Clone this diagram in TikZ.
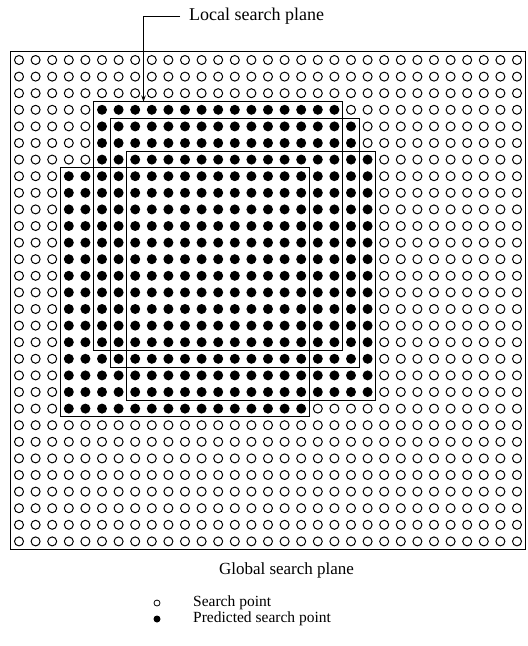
\documentclass[tikz,border=0pt]{standalone}
\usepackage{fontspec}
\setmainfont{Liberation Serif}
\usetikzlibrary{arrows.meta}
\begin{document}
\begin{tikzpicture}[x=1pt,y=-1pt,
  openpt/.style={circle,draw,line width=1pt,minimum size=9pt,inner sep=0pt},
  fillpt/.style={circle,fill,minimum size=10pt,inner sep=0pt},
  planebox/.style={draw,line width=1pt},
  outerframe/.style={draw,line width=1.2pt},
  lbl/.style={inner sep=0pt}]
\useasboundingbox (0,0) rectangle (528,646);
% grid of search points
\foreach \c in {0,...,30} {
  \foreach \r in {0,...,29} {
    \pgfmathtruncatemacro\isfilled{((\c>=5)&&(\c<=19)&&(\r>=3)&&(\r<=17))||((\c>=6)&&(\c<=20)&&(\r>=4)&&(\r<=18))||((\c>=7)&&(\c<=21)&&(\r>=6)&&(\r<=20))||((\c>=3)&&(\c<=17)&&(\r>=7)&&(\r<=21))}
    \ifnum\isfilled=1
      \node[fillpt] (p-\c-\r) at ({19+16.6*\c},{60+16.6*\r}) {};
    \else
      \node[openpt] (p-\c-\r) at ({19+16.6*\c},{60+16.6*\r}) {};
    \fi
  }
}
% global frame
\draw[outerframe] (10.7,51.7) rectangle (525.3,549.7);
% local search planes (15x15 cells each)
\newcommand\localbox[2]{\draw[planebox] ({19+16.6*(#1-0.5)},{60+16.6*(#2-0.5)}) rectangle ({19+16.6*(#1+14.5)},{60+16.6*(#2+14.5)});}
\localbox{5}{3}
\localbox{6}{4}
\localbox{7}{6}
\localbox{3}{7}
% label with leader
\node[lbl, anchor=west, inner xsep=9pt, font=\fontsize{18}{20}\selectfont] (lsp) at (180,16) {Local search plane};
\coordinate (atip) at (143.5,101.5);
\draw[line width=0.8pt,-{Stealth[length=6pt,width=4.5pt]}] (lsp.west) -| (atip);
% caption
\node[lbl, font=\fontsize{17}{20}\selectfont] (gsp) at (286.5,570) {Global search plane};
% legend
\node[circle,draw,line width=0.8pt,minimum size=6pt,inner sep=0pt] (lgo) at (157,603) {};
\node[lbl, anchor=west, font=\fontsize{15.5}{18}\selectfont] (lgot) at (193,603) {Search point};
\node[circle,fill,minimum size=7pt,inner sep=0pt] (lgf) at (157,619) {};
\node[lbl, anchor=west, font=\fontsize{15.5}{18}\selectfont] (lgft) at (193,619) {Predicted search point};
\end{tikzpicture}
\end{document}
